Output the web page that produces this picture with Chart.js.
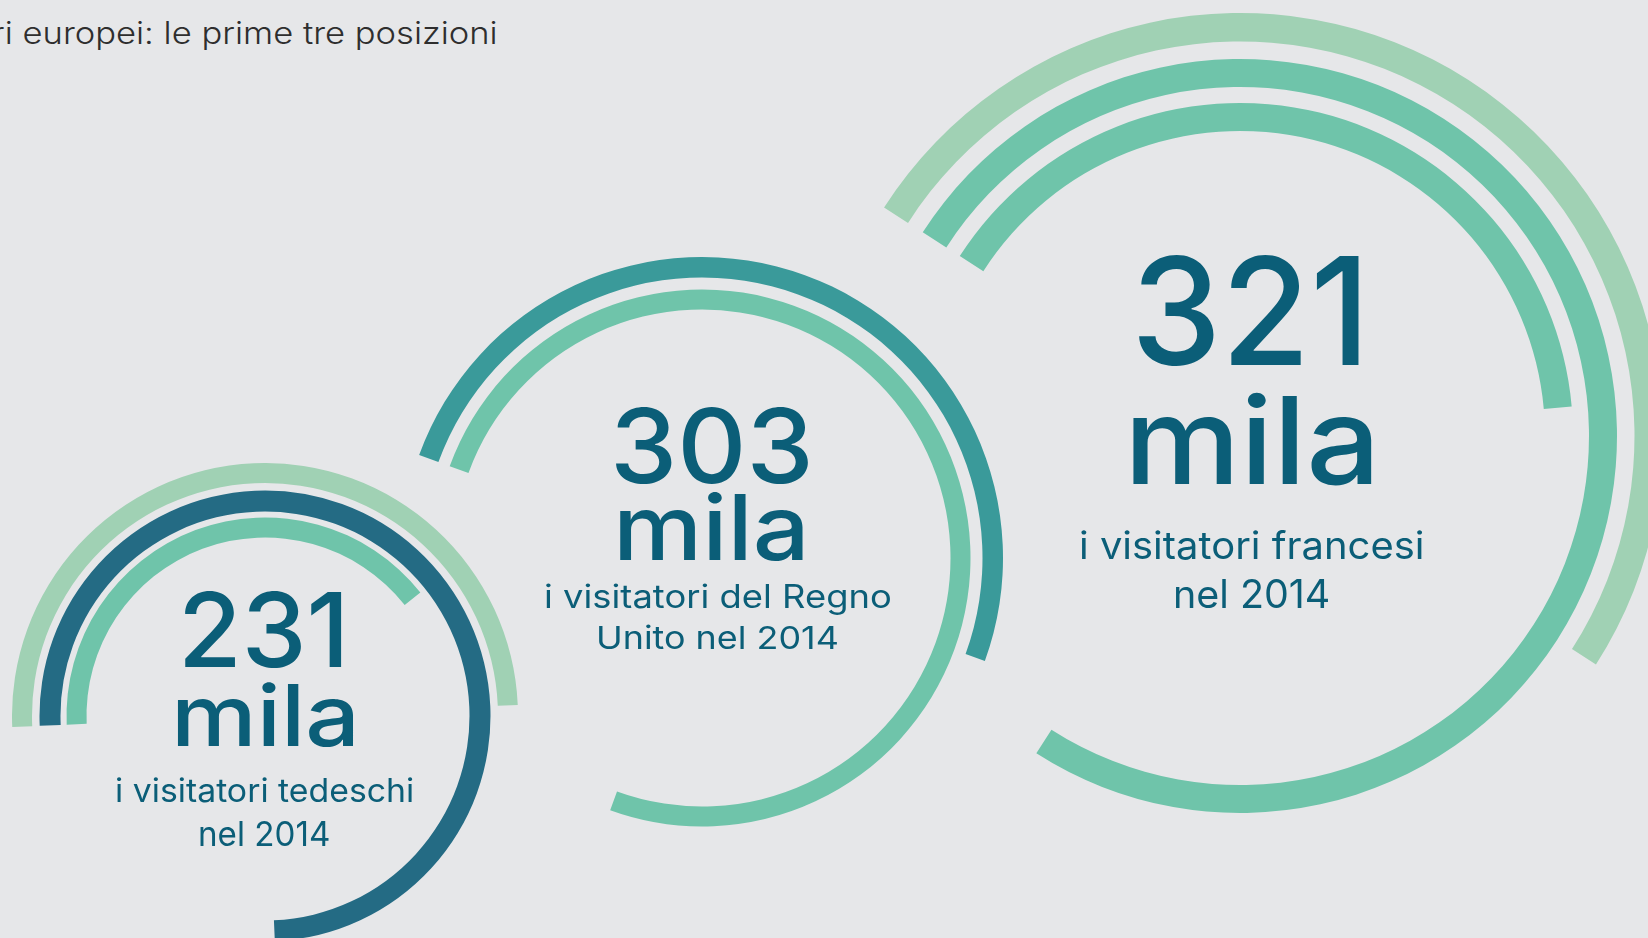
<!DOCTYPE html>
<html>
<head>
<meta charset="utf-8">
<script src="https://cdn.jsdelivr.net/npm/chart.js@4.4.1/dist/chart.umd.min.js"></script>
<style>
  html, body { margin:0; padding:0; width:1648px; height:938px; overflow:hidden; background:#e6e7e9; }
  #stage { position:relative; width:1648px; height:938px; overflow:hidden; background:#e6e7e9; }
  .ring { position:absolute; display:block; }
  .txt { position:absolute; white-space:nowrap; transform-origin:0 0; margin:0; padding:0; line-height:1; }
</style>
</head>
<body>
<div id="stage"></div>
<script>
// ---------------- DATA ----------------
const titleText = 'ri europei: le prime tre posizioni';
const countries = ['Germania', 'Regno Unito', 'Francia'];
const visitorsK = [231, 303, 321];            // migliaia di visitatori nel 2014
const unitLabel = 'mila';
const captionLine1 = ['i visitatori tedeschi', 'i visitatori del Regno', 'i visitatori francesi'];
const captionLine2 = ['nel 2014', 'Unito nel 2014', 'nel 2014'];
// arc length of each ring, % of a full circle (outer ring -> inner ring)
const arcsDe = [50, 75, 40];
const arcsUk = [50, 75];
const arcsFr = [50, 75, 39.5];
// start angle of the arcs (degrees, 0 = 12 o'clock, clockwise)
const startDeg = [-92.5, -70, -57.3];

// ---------------- STYLE / LAYOUT ----------------
const C = {
  light: '#a0d1b4',
  green: '#6fc4aa',
  teal:  '#3a9a9a',
  dark:  '#246b84',
  text:  '#0b5e78',
  title: '#2e2e2e'
};
const colorsDe = [C.light, C.dark, C.green];
const colorsUk = [C.teal, C.green];
const colorsFr = [C.light, C.green, C.green];

const geo = [
  { cx:265,  cy:716, rings:[[253,233],[225.5,204.5],[198.5,178.5]] },
  { cx:702,  cy:558, rings:[[301,280.5],[268.5,248.5]] },
  { cx:1240, cy:436, rings:[[423,394.5],[377,349],[333,305]] }
];

const textBoxes = [
  { num:{l:184,r:341.6,t:590,b:666.7}, unit:{l:177.3,r:353,t:681.7,b:746}, c1:{l:117,r:412.5,t:777,b:801.7}, c2:{l:200.8,r:329,t:820.5,b:845.5} },
  { num:{l:615.5,r:809,t:406.5,b:483}, unit:{l:620,r:803,t:490.7,b:559.6}, c1:{l:546,r:890,t:583.7,b:608.2}, c2:{l:599,r:837,t:624.6,b:648.7} },
  { num:{l:1138,r:1359,t:253.7,b:364.5}, unit:{l:1133,r:1371.6,t:392.3,b:483.8}, c1:{l:1081,r:1422,t:529.3,b:558.6}, c2:{l:1175.6,r:1328,t:579.5,b:608.3} }
];
const titleBox = { l:-5, r:496, t:20.7, b:44 };

const FONT = 'Inter, "Open Sans", "DejaVu Sans", sans-serif';
const stage = document.getElementById('stage');

// ---------------- RINGS (Chart.js doughnuts) ----------------
function makeRings(idx, arcs, colors) {
  const g = geo[idx];
  const R = g.rings[0][0];
  const datasets = [];
  g.rings.forEach((r, i) => {
    datasets.push({
      label: countries[idx] + ' ' + (i + 1),
      data: [arcs[i], 100 - arcs[i]],
      backgroundColor: [colors[i], 'rgba(0,0,0,0)'],
      borderWidth: 0,
      weight: r[0] - r[1]
    });
    if (i < g.rings.length - 1) {
      datasets.push({
        label: 'gap',
        data: [100],
        backgroundColor: ['rgba(0,0,0,0)'],
        borderWidth: 0,
        weight: r[1] - g.rings[i + 1][0]
      });
    }
  });
  const cv = document.createElement('canvas');
  cv.className = 'ring';
  cv.width = 2 * R; cv.height = 2 * R;
  cv.style.width = (2 * R) + 'px'; cv.style.height = (2 * R) + 'px';
  cv.style.left = (g.cx - R) + 'px'; cv.style.top = (g.cy - R) + 'px';
  stage.appendChild(cv);
  new Chart(cv, {
    type: 'doughnut',
    data: { labels: [countries[idx], ''], datasets },
    options: {
      responsive: false,
      animation: false,
      devicePixelRatio: 1,
      events: [],
      rotation: startDeg[idx],
      circumference: 360,
      cutout: g.rings[g.rings.length - 1][1],
      layout: { padding: 0 },
      plugins: { legend: { display: false }, tooltip: { enabled: false }, title: { display: false } }
    }
  });
}

makeRings(0, arcsDe, colorsDe);
makeRings(1, arcsUk, colorsUk);
makeRings(2, arcsFr, colorsFr);

// ---------------- TEXT ----------------
const mctx = document.createElement('canvas').getContext('2d');
function placeText(str, box, weight, color) {
  mctx.font = weight + ' 100px ' + FONT;
  const m = mctx.measureText(str);
  const size = 100 * (box.b - box.t) / m.actualBoundingBoxAscent;
  const k = size / 100;
  const inkLeft = m.actualBoundingBoxLeft * k;
  const inkW = (m.actualBoundingBoxLeft + m.actualBoundingBoxRight) * k;
  const sx = (box.r - box.l) / inkW;
  const el = document.createElement('div');
  el.className = 'txt';
  el.style.font = weight + ' ' + size + 'px ' + FONT;
  el.style.lineHeight = '1';
  el.style.color = color;
  el.appendChild(document.createTextNode(str));
  const mk = document.createElement('span');
  mk.style.cssText = 'display:inline-block;width:0;height:0;vertical-align:baseline;';
  el.appendChild(mk);
  stage.appendChild(el);
  const baseOff = mk.offsetTop;
  el.style.top = (box.b - baseOff) + 'px';
  el.style.left = (box.l + sx * inkLeft) + 'px';
  el.style.transform = 'scaleX(' + sx + ')';
}

placeText(titleText, titleBox, 300, C.title);
for (let i = 0; i < 3; i++) {
  const b = textBoxes[i];
  placeText(String(visitorsK[i]), b.num, 500, C.text);
  placeText(unitLabel, b.unit, 500, C.text);
  placeText(captionLine1[i], b.c1, 400, C.text);
  placeText(captionLine2[i], b.c2, 400, C.text);
}
</script>
</body>
</html>
